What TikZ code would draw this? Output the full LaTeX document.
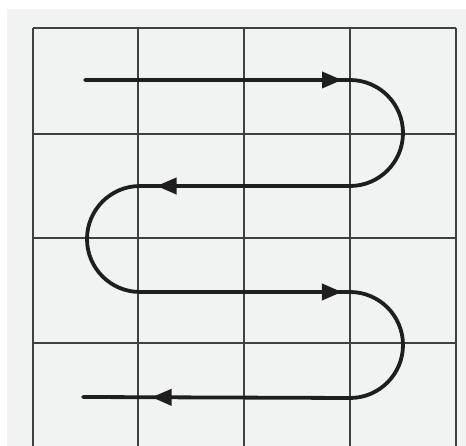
\documentclass[tikz,border=0pt]{standalone}
\usepackage{tikz}
\usetikzlibrary{arrows.meta, decorations.markings}
\definecolor{paper}{RGB}{240,243,241}
\definecolor{ink}{RGB}{30,30,30}

\begin{document}
\begin{tikzpicture}[
    x=1pt, y=1pt,
    gridline/.style={draw=ink!85, line width=2pt},
    snake/.style={draw=ink, line width=3.8pt, line cap=round,
        postaction={decorate},
        decoration={markings,
            mark=at position 257pt with {\arrow{Triangle[length=20pt,width=16pt]}},
            mark=at position 625pt with {\arrow{Triangle[length=20pt,width=16pt]}},
            mark=at position 1010pt with {\arrow{Triangle[length=20pt,width=16pt]}},
            mark=at position 1383pt with {\arrow{Triangle[length=20pt,width=16pt]}}}},
]
    % page and paper
    \useasboundingbox (0,0) rectangle (466,446);
    \fill[white] (0,0) rectangle (466,446);
    \fill[paper] (7,0) rectangle (466,437);

    % grid
    \foreach \gx in {33,138,244,350,456}
        \draw[gridline] (\gx,0) -- (\gx,418);
    \foreach \gy in {418,312,208,103}
        \draw[gridline] (33,\gy) -- (456,\gy);

    % path through the cells
    \coordinate (start) at (85,366);
    \coordinate (r1) at (350,366);
    \coordinate (l1) at (140,260);
    \coordinate (r2) at (350,154);
    \coordinate (finish) at (83,49);
    \draw[snake] (start) -- (r1) arc[start angle=90, end angle=-90, radius=53]
        -- (l1) arc[start angle=90, end angle=270, radius=53]
        -- (r2) arc[start angle=90, end angle=-90, radius=53]
        -- (finish);
\end{tikzpicture}
\end{document}
